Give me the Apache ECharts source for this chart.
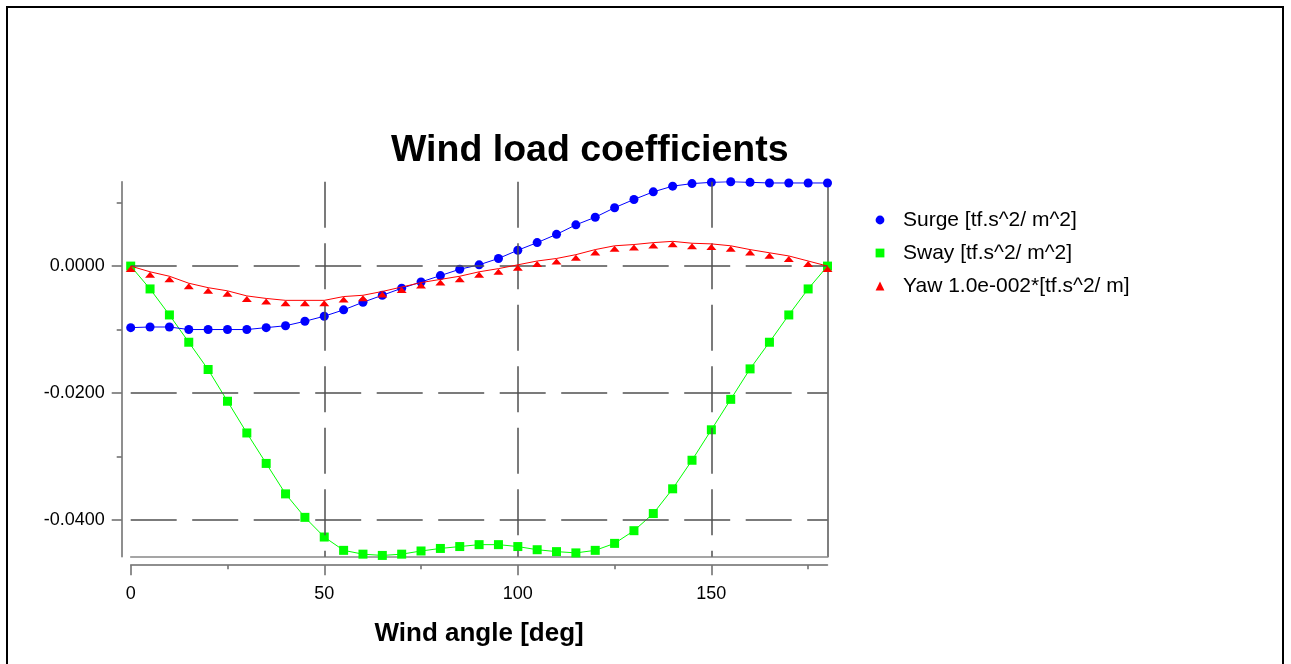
<!DOCTYPE html>
<html><head><meta charset="utf-8">
<script src="https://cdn.jsdelivr.net/npm/echarts@6/dist/echarts.min.js"></script>
<style>html,body{margin:0;padding:0;background:#fff}#c{width:1291px;height:664px}</style>
</head><body><div id="c"></div>
<script>
// ---- data ----
const angles = [0,5,10,15,20,25,30,35,40,45,50,55,60,65,70,75,80,85,90,95,100,105,110,115,120,125,130,135,140,145,150,155,160,165,170,175,180];
const surge = [-0.0097,-0.0096,-0.0096,-0.0100,-0.0100,-0.0100,-0.0100,-0.0097,-0.0094,-0.0087,-0.0079,-0.0069,-0.0057,-0.0046,-0.0035,-0.0025,-0.0015,-0.0005,0.0002,0.0012,0.0025,0.0037,0.0050,0.0065,0.0077,0.0092,0.0105,0.0117,0.0126,0.0130,0.0132,0.0133,0.0132,0.0131,0.0131,0.0131,0.0131];
const sway = [0,-0.0036,-0.0077,-0.0120,-0.0163,-0.0213,-0.0263,-0.0311,-0.0359,-0.0396,-0.0427,-0.0448,-0.0454,-0.0456,-0.0454,-0.0449,-0.0445,-0.0442,-0.0439,-0.0439,-0.0442,-0.0447,-0.0450,-0.0452,-0.0448,-0.0437,-0.0417,-0.0390,-0.0351,-0.0306,-0.0258,-0.0210,-0.0162,-0.0120,-0.0077,-0.0036,0];
const yaw = [0,-0.0009,-0.0016,-0.0027,-0.0034,-0.0039,-0.0047,-0.0051,-0.0054,-0.0054,-0.0054,-0.0048,-0.0046,-0.0040,-0.0033,-0.0026,-0.0021,-0.0016,-0.0009,-0.0004,0.0002,0.0008,0.0012,0.0018,0.0026,0.0032,0.0034,0.0037,0.0039,0.0036,0.0035,0.0032,0.0026,0.0021,0.0016,0.0008,0];
const seriesNames = ['Surge [tf.s^2/ m^2]','Sway [tf.s^2/ m^2]','Yaw 1.0e-002*[tf.s^2/ m]'];
const xMajorTicks = [0,50,100,150];
const xMinorTicks = [25,75,125,175];
const yMajorTicks = [-0.04,-0.02,0];
const yMinorTicks = [-0.03,-0.01,0.01];
const xGridLines = [50,100,150];
const yGridLines = [0,-0.02,-0.04];
const X_MIN = 0, X_MAX = 180, Y_MIN = -0.0458, Y_MAX = 0.0133;

const FONT = "'Liberation Sans', Arial, sans-serif";
const AXIS_COLOR = '#6a6a6a';
const GRID_COLOR = '#505050';

const pairs = arr => angles.map((a, i) => [a, arr[i]]);

const chart = echarts.init(document.getElementById('c'), null, {renderer: 'canvas'});

const gridLineData = [];
yGridLines.forEach(v => gridLineData.push([{coord: [X_MIN, v]}, {coord: [X_MAX, v]}]));
xGridLines.forEach(v => gridLineData.push([{coord: [v, Y_MAX]}, {coord: [v, Y_MIN]}]));

const baseY = {type: 'value', min: Y_MIN, max: Y_MAX, splitLine: {show: false}};
const baseX = {type: 'value', min: X_MIN, max: X_MAX, splitLine: {show: false}};

chart.setOption({
  animation: false,
  backgroundColor: '#ffffff',
  textStyle: {fontFamily: FONT},
  title: {
    text: 'Wind load coefficients',
    left: 386, top: 127,
    textStyle: {fontFamily: FONT, fontSize: 37.5, fontWeight: 'bold', color: '#000'}
  },
  graphic: [{
    type: 'rect', shape: {x: 7, y: 7, width: 1276, height: 720},
    style: {fill: 'none', stroke: '#000', lineWidth: 2}, silent: true
  }],
  legend: {
    orient: 'vertical', left: 856, top: 204.5,
    itemWidth: 36, itemHeight: 11, itemGap: 12,
    data: seriesNames,
    lineStyle: {opacity: 0},
    textStyle: {fontFamily: FONT, fontSize: 21, color: '#000'},
    selectedMode: false
  },
  grid: {left: 130.7, top: 181.7, width: 696.8, height: 375},
  xAxis: [
    Object.assign({}, baseX, {
      position: 'bottom', offset: 8.5,
      axisLine: {show: true, onZero: false, lineStyle: {color: AXIS_COLOR, width: 1.5}},
      axisTick: {show: true, customValues: xMajorTicks, length: 10, lineStyle: {color: AXIS_COLOR, width: 1.5}},
      axisLabel: {customValues: xMajorTicks, margin: 20, fontSize: 18, color: '#000', fontFamily: FONT},
      name: 'Wind angle [deg]', nameLocation: 'middle', nameGap: 56,
      nameTextStyle: {fontFamily: FONT, fontSize: 26, fontWeight: 'bold', color: '#000'}
    }),
    Object.assign({}, baseX, {
      position: 'bottom', offset: 8.5,
      axisLine: {show: false, onZero: false},
      axisTick: {show: true, customValues: xMinorTicks, length: 4, lineStyle: {color: AXIS_COLOR, width: 1.5}},
      axisLabel: {show: false}
    }),
    Object.assign({}, baseX, {
      position: 'bottom', offset: 0,
      axisLine: {show: true, onZero: false, lineStyle: {color: '#888888', width: 1.5}},
      axisTick: {show: false}, axisLabel: {show: false}
    })
  ],
  yAxis: [
    Object.assign({}, baseY, {
      position: 'left', offset: 9,
      axisLine: {show: true, onZero: false, lineStyle: {color: AXIS_COLOR, width: 1.5}},
      axisTick: {show: true, customValues: yMajorTicks, length: 10, lineStyle: {color: AXIS_COLOR, width: 1.5}},
      axisLabel: {customValues: yMajorTicks, margin: 17, fontSize: 18, color: '#000', fontFamily: FONT,
        formatter: v => v.toFixed(4)}
    }),
    Object.assign({}, baseY, {
      position: 'left', offset: 9,
      axisLine: {show: false, onZero: false},
      axisTick: {show: true, customValues: yMinorTicks, length: 5, lineStyle: {color: AXIS_COLOR, width: 1.5}},
      axisLabel: {show: false}
    }),
    Object.assign({}, baseY, {
      position: 'right', offset: 0,
      axisLine: {show: true, onZero: false, lineStyle: {color: '#555555', width: 1.5}},
      axisTick: {show: false}, axisLabel: {show: false}
    })
  ],
  series: [
    {
      type: 'line', data: [], z: 1, silent: true,
      markLine: {
        silent: true, symbol: 'none', animation: false,
        label: {show: false}, emphasis: {disabled: true},
        lineStyle: {color: GRID_COLOR, width: 1.5, type: [46, 15.5]},
        data: gridLineData
      }
    },
    {
      name: seriesNames[1], type: 'line', data: pairs(sway), z: 3,
      symbol: 'rect', symbolSize: 9,
      itemStyle: {color: '#00ff00'}, lineStyle: {color: '#00ff00', width: 1}
    },
    {
      name: seriesNames[0], type: 'line', data: pairs(surge), z: 4,
      symbol: 'circle', symbolSize: 9,
      itemStyle: {color: '#0000ff'}, lineStyle: {color: '#0000ff', width: 1}
    },
    {
      name: seriesNames[2], type: 'line', data: pairs(yaw), z: 5,
      symbol: 'triangle', symbolSize: [10, 6], symbolOffset: [0, 3],
      itemStyle: {color: '#ff0000'}, lineStyle: {color: '#ff0000', width: 1}
    }
  ]
});
</script></body></html>
